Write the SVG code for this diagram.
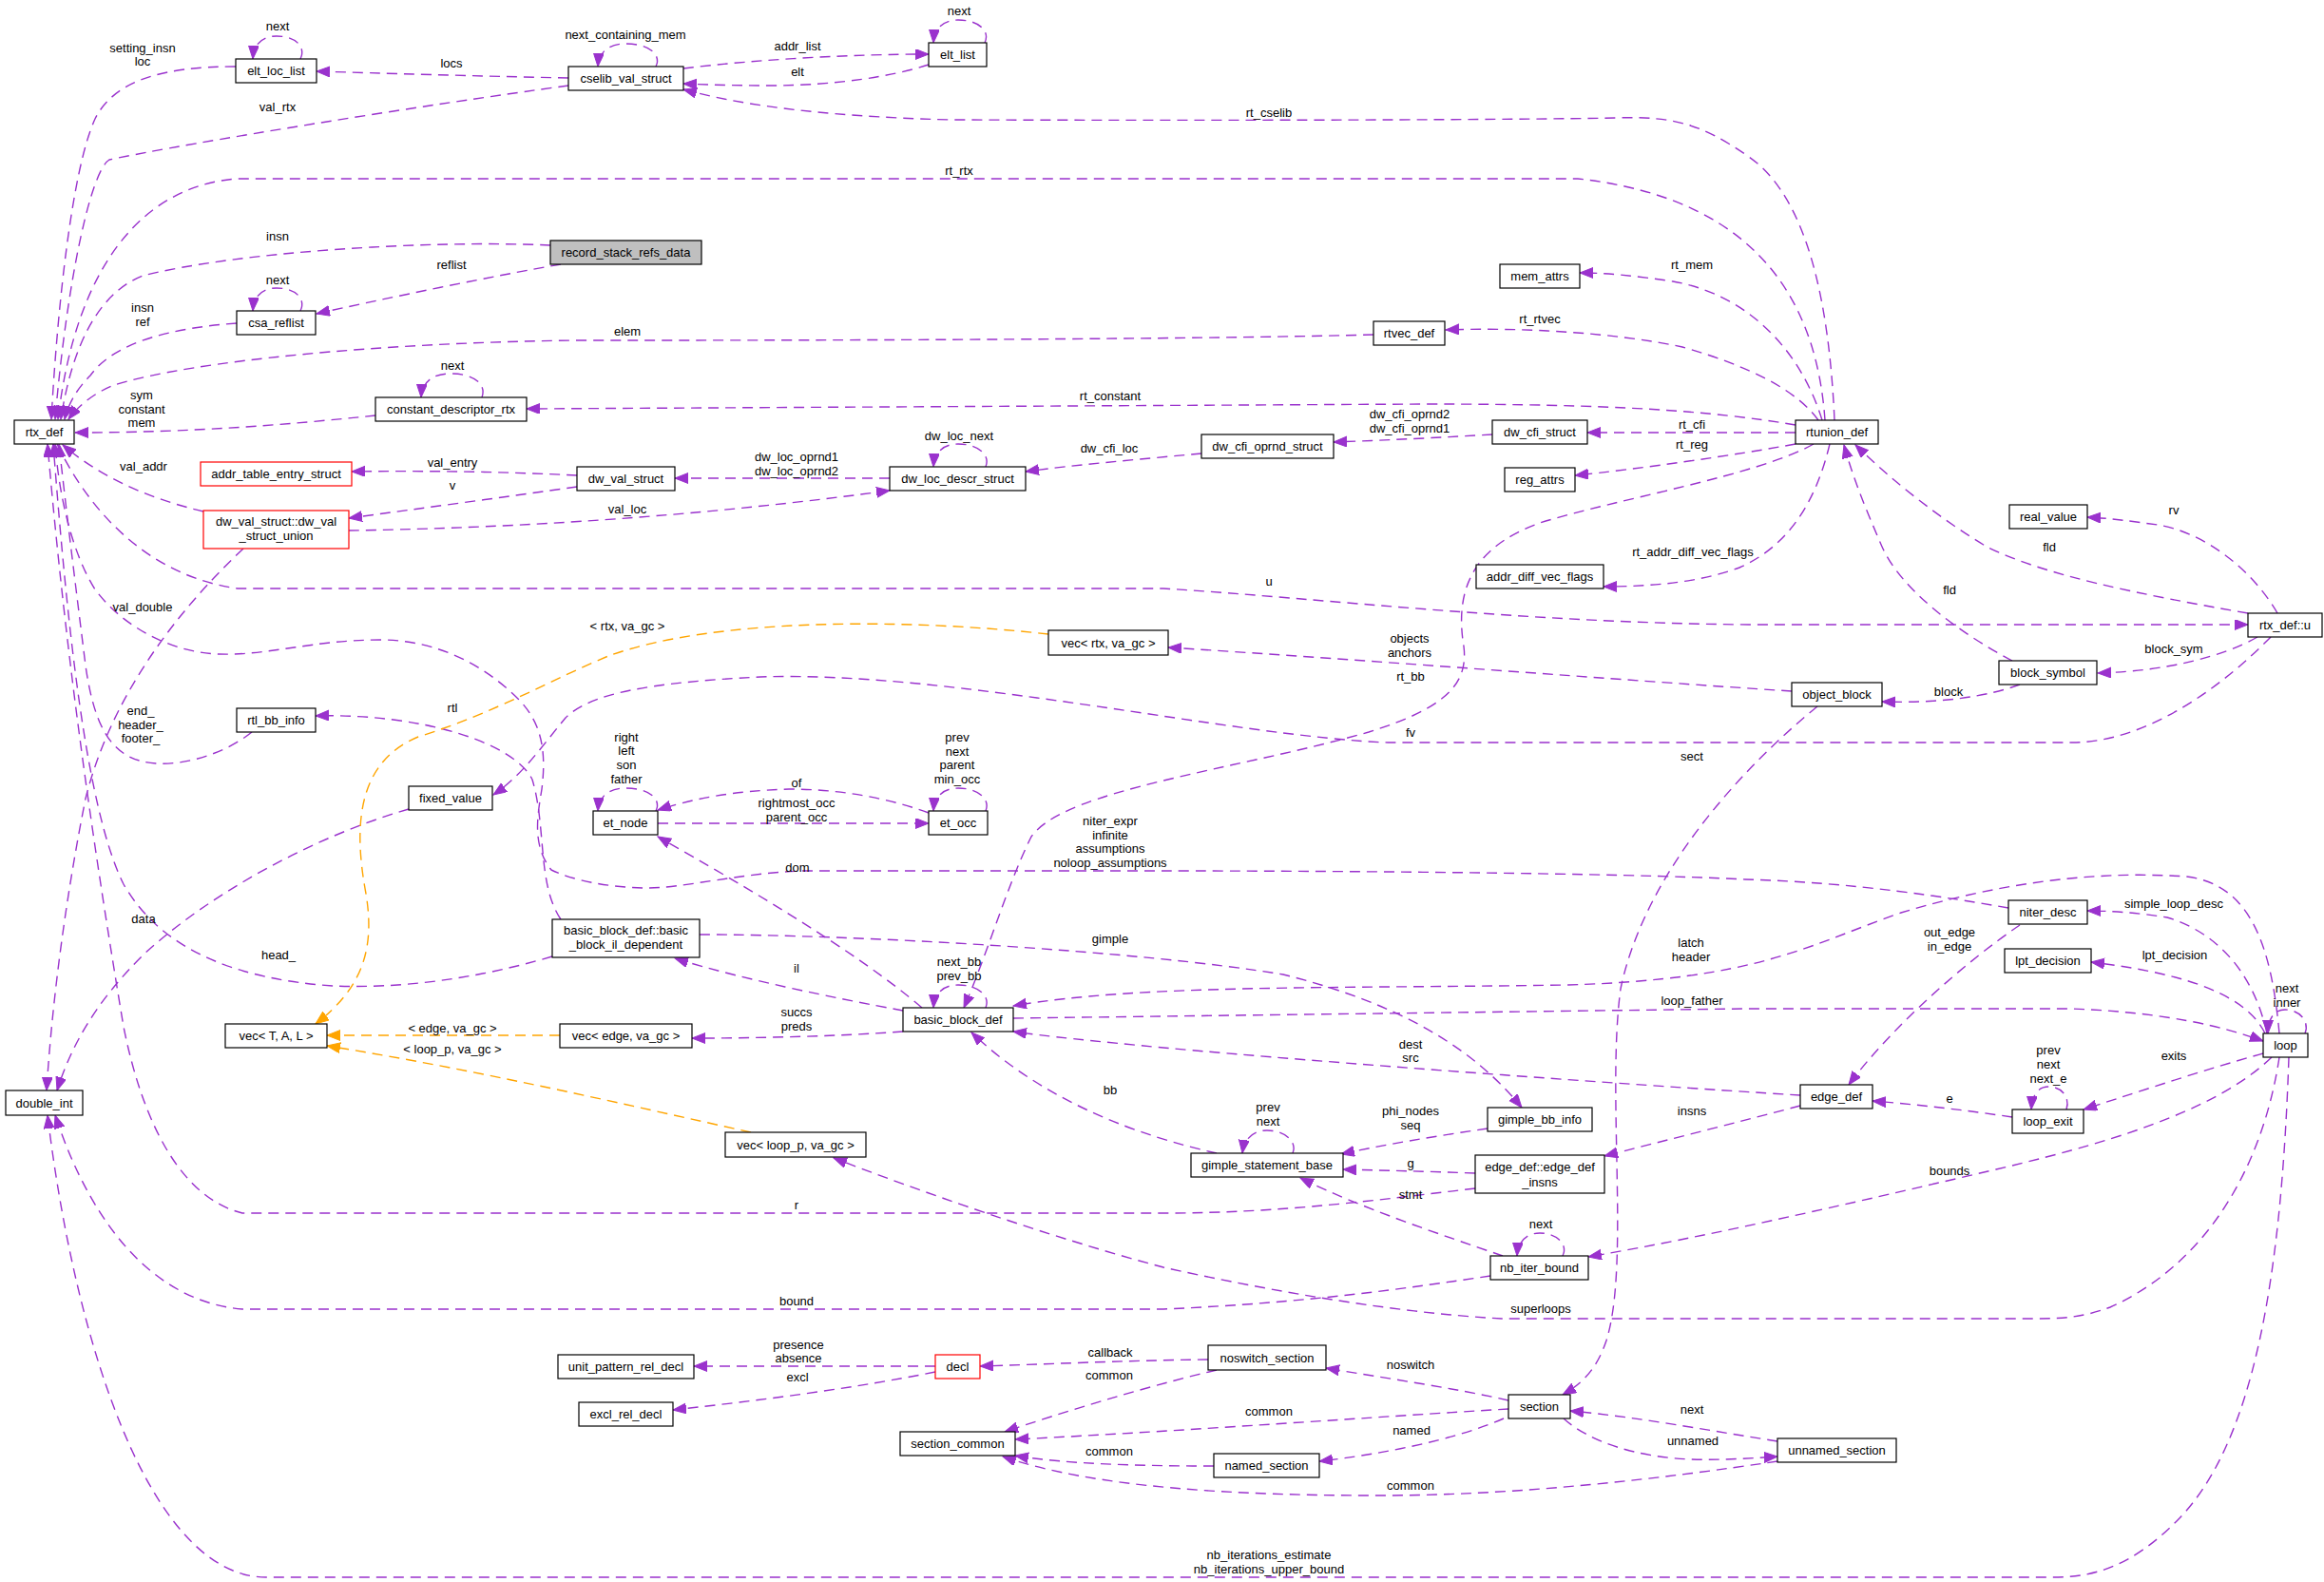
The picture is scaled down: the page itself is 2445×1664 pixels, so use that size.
<svg xmlns="http://www.w3.org/2000/svg" width="2445" height="1664" viewBox="0 0 2445 1664">
<style>
.n rect{fill:#fff;stroke:#000;stroke-width:1.2}
.n.red rect{stroke:#ff0000}
.n.gray rect{fill:#bfbfbf}
text{font-family:"Liberation Sans",Arial,Helvetica,sans-serif;font-size:13px;text-anchor:middle;fill:#000}
.e{fill:none;stroke:#9a32cd;stroke-width:1.4;stroke-dasharray:11,7}
.o{fill:none;stroke:#ffa500;stroke-width:1.4;stroke-dasharray:11,7}
</style>
<defs>
<marker id="ap" markerUnits="userSpaceOnUse" markerWidth="16" markerHeight="12" refX="14" refY="5.5" orient="auto"><path d="M0,0 L14,5.5 L0,11 z" fill="#9a32cd" stroke="#9a32cd"/></marker>
<marker id="ao" markerUnits="userSpaceOnUse" markerWidth="16" markerHeight="12" refX="14" refY="5.5" orient="auto"><path d="M0,0 L14,5.5 L0,11 z" fill="#ffa500" stroke="#ffa500"/></marker>
</defs>
<rect width="2445" height="1664" fill="#fff"/>
<g id="edges">
<path class="e" marker-end="url(#ap)" d="M248,70 C170,70 120,85 100,125 C75,180 60,330 54,441"/>
<path class="e" marker-end="url(#ap)" d="M316,62 C322,50 312,38 291,38 C275,38 267,47 266,62"/>
<path class="e" marker-end="url(#ap)" d="M598,82 C500,80 400,77 333,75"/>
<path class="e" marker-end="url(#ap)" d="M598,90 C450,110 200,150 115,168 C95,180 70,300 58,441"/>
<path class="e" marker-end="url(#ap)" d="M690,70 C696,58 684,46 658,46 C640,46 630,55 629,70"/>
<path class="e" marker-end="url(#ap)" d="M719,72 C800,62 900,57 977,57"/>
<path class="e" marker-end="url(#ap)" d="M977,68 C940,80 880,90 810,90 C770,90 740,89 719,88"/>
<path class="e" marker-end="url(#ap)" d="M1036,45 C1042,33 1030,21 1008,21 C992,21 983,30 982,45"/>
<path class="e" marker-end="url(#ap)" d="M1930,442 C1925,330 1905,210 1840,165 C1790,130 1760,122 1700,124 C1600,126 1300,127 1000,126 C850,122 770,108 719,94"/>
<path class="e" marker-end="url(#ap)" d="M1920,442 C1912,330 1860,210 1660,188 L250,188 C150,195 80,280 61,441"/>
<path class="e" marker-end="url(#ap)" d="M579,258 C450,252 250,265 150,290 C100,310 75,370 64,441"/>
<path class="e" marker-end="url(#ap)" d="M590,278 C520,290 400,315 333,330"/>
<path class="e" marker-end="url(#ap)" d="M316,327 C322,315 312,303 291,303 C275,303 267,312 266,327"/>
<path class="e" marker-end="url(#ap)" d="M249,340 C180,345 120,360 95,395 C80,410 72,425 68,441"/>
<path class="e" marker-end="url(#ap)" d="M1917,442 C1895,370 1840,310 1760,296 C1720,290 1690,287 1662,287"/>
<path class="e" marker-end="url(#ap)" d="M1445,352 C1300,356 1000,358 612,358 C400,360 200,380 120,405 C95,415 80,430 72,441"/>
<path class="e" marker-end="url(#ap)" d="M1913,442 C1890,410 1840,385 1770,365 C1700,350 1600,344 1521,347"/>
<path class="e" marker-end="url(#ap)" d="M507,418 C512,405 500,393 474,393 C455,393 444,402 443,418"/>
<path class="e" marker-end="url(#ap)" d="M395,437 C300,447 200,455 79,455"/>
<path class="e" marker-end="url(#ap)" d="M1889,447 C1800,432 1700,425 1500,425 L554,430"/>
<path class="e" marker-end="url(#ap)" d="M1570,457 C1520,460 1460,463 1403,465"/>
<path class="e" marker-end="url(#ap)" d="M1889,455 L1670,455"/>
<path class="e" marker-end="url(#ap)" d="M1889,467 C1830,478 1720,494 1657,500"/>
<path class="e" marker-end="url(#ap)" d="M1264,477 C1200,483 1130,489 1079,496"/>
<path class="e" marker-end="url(#ap)" d="M1037,491 C1042,479 1030,467 1008,467 C992,467 983,476 982,491"/>
<path class="e" marker-end="url(#ap)" d="M936,503 L710,503"/>
<path class="e" marker-end="url(#ap)" d="M607,500 C530,496 450,495 370,496"/>
<path class="e" marker-end="url(#ap)" d="M607,512 C530,523 440,535 367,545"/>
<path class="e" marker-end="url(#ap)" d="M214,538 C160,525 110,505 66,468"/>
<path class="e" marker-end="url(#ap)" d="M367,558 C500,556 700,548 936,516"/>
<path class="e" marker-end="url(#ap)" d="M256,577 C200,630 120,720 90,840 C70,940 55,1050 49,1147"/>
<path class="e" marker-end="url(#ap)" d="M1925,467 C1910,530 1880,575 1830,597 C1790,612 1740,617 1687,617"/>
<path class="e" marker-end="url(#ap)" d="M1908,467 C1850,500 1700,525 1620,550 C1550,575 1530,620 1540,680 C1545,720 1520,745 1440,770 C1300,810 1120,830 1085,880 C1060,930 1040,1000 1014,1060"/>
<path class="e" marker-end="url(#ap)" d="M60,467 C90,530 150,605 250,619 L1224,619 C1400,630 1600,655 1840,657 L2365,657"/>
<path class="e" marker-end="url(#ap)" d="M2365,645 C2250,625 2150,605 2090,575 C2040,545 1990,505 1952,468"/>
<path class="e" marker-end="url(#ap)" d="M2117,695 C2060,665 2000,620 1980,575 C1965,540 1950,505 1940,468"/>
<path class="e" marker-end="url(#ap)" d="M2396,645 C2370,600 2320,560 2270,552 C2240,548 2220,545 2196,544"/>
<path class="e" marker-end="url(#ap)" d="M2375,670 C2340,690 2280,706 2207,708"/>
<path class="e" marker-end="url(#ap)" d="M2125,720 C2090,733 2040,740 1980,738"/>
<path class="e" marker-end="url(#ap)" d="M1885,727 C1700,715 1450,695 1229,681"/>
<path class="e" marker-end="url(#ap)" d="M1912,743 C1830,810 1730,920 1705,1040 C1690,1150 1715,1330 1690,1410 C1680,1440 1665,1455 1644,1467"/>
<path class="e" marker-end="url(#ap)" d="M2389,670 C2340,720 2260,781 2180,781 L1460,781 C1300,775 1000,705 800,712 C680,718 620,730 595,755 C570,785 550,815 519,836"/>
<path class="e" marker-end="url(#ap)" d="M430,851 C330,880 220,940 150,1005 C100,1055 75,1100 60,1147"/>
<path class="e" marker-end="url(#ap)" d="M581,1006 C500,1030 420,1040 350,1037 C250,1030 170,1000 130,930 C90,850 70,650 56,467"/>
<path class="e" marker-end="url(#ap)" d="M590,967 C565,930 575,870 560,820 C540,780 440,750 332,753"/>
<path class="e" marker-end="url(#ap)" d="M736,983 C900,983 1200,1000 1350,1025 C1450,1050 1540,1090 1601,1165"/>
<path class="e" marker-end="url(#ap)" d="M265,770 C240,790 200,805 164,803 C120,800 100,770 90,700 C80,620 70,540 62,467"/>
<path class="e" marker-end="url(#ap)" d="M690,853 C696,841 684,829 658,829 C640,829 630,838 629,853"/>
<path class="e" marker-end="url(#ap)" d="M977,855 C930,838 880,830 830,830 C770,832 730,840 692,852"/>
<path class="e" marker-end="url(#ap)" d="M692,866 L977,866"/>
<path class="e" marker-end="url(#ap)" d="M1037,853 C1042,841 1030,829 1008,829 C992,829 983,838 982,853"/>
<path class="e" marker-end="url(#ap)" d="M970,1060 C900,1000 780,930 692,880"/>
<path class="e" marker-end="url(#ap)" d="M2113,955 C2050,944 1950,928 1836,925 C1700,918 1400,916 1224,916 L846,916 C780,918 720,934 682,934 C640,934 600,925 580,915 C560,890 565,860 570,830 C575,790 570,760 545,735 C510,700 460,673 400,673 C330,673 280,690 230,688 C180,686 130,660 100,620 C75,580 62,520 58,467"/>
<path class="e" marker-end="url(#ap)" d="M950,1063 C880,1050 780,1030 710,1008"/>
<path class="e" marker-end="url(#ap)" d="M1037,1060 C1042,1048 1030,1036 1008,1036 C992,1036 983,1045 982,1060"/>
<path class="e" marker-end="url(#ap)" d="M950,1085 C880,1090 800,1092 728,1092"/>
<path class="e" marker-end="url(#ap)" d="M2398,1087 C2390,1000 2370,930 2300,922 C2200,915 2100,930 2000,960 C1900,995 1850,1030 1650,1036 C1400,1040 1200,1035 1066,1058"/>
<path class="e" marker-end="url(#ap)" d="M1066,1071 L1836,1061 L2180,1061 C2280,1065 2340,1080 2381,1095"/>
<path class="e" marker-end="url(#ap)" d="M1894,1152 C1700,1140 1400,1118 1224,1102 C1150,1095 1100,1090 1066,1085"/>
<path class="e" marker-end="url(#ap)" d="M1280,1213 C1200,1195 1100,1160 1022,1086"/>
<path class="e" marker-end="url(#ap)" d="M2125,973 C2070,1010 1990,1080 1945,1141"/>
<path class="e" marker-end="url(#ap)" d="M2385,1087 C2370,1020 2330,980 2280,965 C2250,960 2220,958 2196,958"/>
<path class="e" marker-end="url(#ap)" d="M2383,1087 C2365,1050 2310,1025 2200,1012"/>
<path class="e" marker-end="url(#ap)" d="M2425,1087 C2430,1075 2420,1062 2404,1062 C2392,1062 2386,1072 2386,1087"/>
<path class="e" marker-end="url(#ap)" d="M2381,1108 C2320,1125 2260,1145 2192,1167"/>
<path class="e" marker-end="url(#ap)" d="M2174,1167 C2178,1155 2170,1143 2155,1143 C2144,1143 2138,1152 2137,1167"/>
<path class="e" marker-end="url(#ap)" d="M2117,1175 C2070,1168 2020,1162 1970,1158"/>
<path class="e" marker-end="url(#ap)" d="M1894,1163 C1830,1180 1750,1200 1688,1216"/>
<path class="e" marker-end="url(#ap)" d="M1565,1187 C1510,1195 1450,1205 1411,1214"/>
<path class="e" marker-end="url(#ap)" d="M1360,1213 C1365,1201 1352,1189 1333,1189 C1318,1189 1309,1198 1307,1213"/>
<path class="e" marker-end="url(#ap)" d="M1552,1234 C1500,1232 1450,1231 1413,1230"/>
<path class="e" marker-end="url(#ap)" d="M1552,1250 C1450,1262 1350,1276 1224,1276 L255,1276 C190,1260 150,1180 130,1080 C100,900 70,700 50,467"/>
<path class="e" marker-end="url(#ap)" d="M1581,1321 C1520,1300 1430,1270 1368,1239"/>
<path class="e" marker-end="url(#ap)" d="M1644,1321 C1650,1309 1638,1297 1620,1297 C1606,1297 1597,1306 1596,1321"/>
<path class="e" marker-end="url(#ap)" d="M2390,1112 C2340,1160 2250,1195 2100,1230 C1950,1265 1800,1300 1671,1322"/>
<path class="e" marker-end="url(#ap)" d="M1568,1342 C1480,1355 1380,1370 1224,1377 L255,1377 C170,1370 100,1300 58,1173"/>
<path class="e" marker-end="url(#ap)" d="M2398,1112 C2380,1230 2320,1330 2220,1375 C2190,1386 2170,1387 2140,1387 L1580,1387 C1450,1380 1300,1350 1224,1333 C1100,1300 960,1250 877,1218"/>
<path class="e" marker-end="url(#ap)" d="M2408,1112 C2400,1350 2370,1520 2290,1600 C2240,1650 2200,1659 2160,1659 L280,1659 C160,1659 80,1420 50,1173"/>
<path class="e" marker-end="url(#ap)" d="M984,1437 L730,1437"/>
<path class="e" marker-end="url(#ap)" d="M984,1443 C900,1460 800,1473 708,1483"/>
<path class="e" marker-end="url(#ap)" d="M1271,1430 C1180,1431 1100,1435 1031,1437"/>
<path class="e" marker-end="url(#ap)" d="M1280,1441 C1200,1460 1120,1485 1057,1506"/>
<path class="e" marker-end="url(#ap)" d="M1587,1473 C1530,1460 1460,1450 1395,1439"/>
<path class="e" marker-end="url(#ap)" d="M1587,1482 C1450,1490 1250,1505 1068,1514"/>
<path class="e" marker-end="url(#ap)" d="M1582,1492 C1530,1515 1450,1530 1388,1537"/>
<path class="e" marker-end="url(#ap)" d="M1277,1542 C1200,1542 1120,1540 1068,1531"/>
<path class="e" marker-end="url(#ap)" d="M1870,1516 C1800,1505 1720,1490 1652,1484"/>
<path class="e" marker-end="url(#ap)" d="M1645,1492 C1670,1515 1720,1533 1780,1535 C1810,1536 1840,1534 1870,1532"/>
<path class="e" marker-end="url(#ap)" d="M1870,1537 C1750,1555 1600,1573 1450,1573 C1300,1573 1150,1565 1055,1532"/>
<path class="o" marker-end="url(#ao)" d="M1103,667 C950,650 750,650 640,690 C580,715 520,750 440,775 C380,800 370,860 385,940 C395,1000 380,1040 332,1077"/>
<path class="o" marker-end="url(#ao)" d="M589,1089 L344,1089"/>
<path class="o" marker-end="url(#ao)" d="M790,1191 C650,1160 500,1125 344,1100"/>
</g>
<g id="edge-labels">
<text x="292" y="32">next</text>
<text x="150" y="55">setting_insn</text><text x="150" y="69">loc</text>
<text x="475" y="71">locs</text>
<text x="292" y="117">val_rtx</text>
<text x="658" y="41">next_containing_mem</text>
<text x="839" y="53">addr_list</text>
<text x="839" y="80">elt</text>
<text x="1009" y="16">next</text>
<text x="1335" y="123">rt_cselib</text>
<text x="1009" y="184">rt_rtx</text>
<text x="292" y="253">insn</text>
<text x="475" y="283">reflist</text>
<text x="292" y="299">next</text>
<text x="150" y="328">insn</text><text x="150" y="343">ref</text>
<text x="1780" y="283">rt_mem</text>
<text x="1620" y="340">rt_rtvec</text>
<text x="660" y="353">elem</text>
<text x="476" y="389">next</text>
<text x="149" y="420">sym</text><text x="149" y="435">constant</text><text x="149" y="449">mem</text>
<text x="1168" y="421">rt_constant</text>
<text x="1483" y="440">dw_cfi_oprnd2</text><text x="1483" y="455">dw_cfi_oprnd1</text>
<text x="1780" y="451">rt_cfi</text>
<text x="1780" y="472">rt_reg</text>
<text x="1009" y="463">dw_loc_next</text>
<text x="1167" y="476">dw_cfi_loc</text>
<text x="838" y="485">dw_loc_oprnd1</text><text x="838" y="500">dw_loc_oprnd2</text>
<text x="476" y="491">val_entry</text>
<text x="151" y="495">val_addr</text>
<text x="476" y="515">v</text>
<text x="660" y="540">val_loc</text>
<text x="2287" y="541">rv</text>
<text x="2156" y="580">fld</text>
<text x="1781" y="585">rt_addr_diff_vec_flags</text>
<text x="2051" y="625">fld</text>
<text x="1335" y="616">u</text>
<text x="150" y="643">val_double</text>
<text x="660" y="663">&lt; rtx, va_gc &gt;</text>
<text x="1483" y="676">objects</text><text x="1483" y="691">anchors</text>
<text x="2287" y="687">block_sym</text>
<text x="1484" y="716">rt_bb</text>
<text x="2050" y="732">block</text>
<text x="476" y="749">rtl</text>
<text x="148" y="752">end_</text><text x="148" y="767">header_</text><text x="148" y="781">footer_</text>
<text x="1484" y="775">fv</text>
<text x="659" y="780">right</text><text x="659" y="794">left</text><text x="659" y="809">son</text><text x="659" y="824">father</text>
<text x="1007" y="780">prev</text><text x="1007" y="795">next</text><text x="1007" y="809">parent</text><text x="1007" y="824">min_occ</text>
<text x="1780" y="800">sect</text>
<text x="838" y="828">of</text>
<text x="838" y="849">rightmost_occ</text><text x="838" y="864">parent_occ</text>
<text x="1168" y="868">niter_expr</text><text x="1168" y="883">infinite</text><text x="1168" y="897">assumptions</text><text x="1168" y="912">noloop_assumptions</text>
<text x="839" y="917">dom</text>
<text x="2287" y="955">simple_loop_desc</text>
<text x="151" y="971">data</text>
<text x="2051" y="985">out_edge</text><text x="2051" y="1000">in_edge</text>
<text x="1168" y="992">gimple</text>
<text x="1779" y="996">latch</text><text x="1779" y="1011">header</text>
<text x="293" y="1009">head_</text>
<text x="2288" y="1009">lpt_decision</text>
<text x="1009" y="1016">next_bb</text><text x="1009" y="1031">prev_bb</text>
<text x="838" y="1023">il</text>
<text x="2406" y="1044">next</text><text x="2406" y="1059">inner</text>
<text x="1780" y="1057">loop_father</text>
<text x="838" y="1069">succs</text><text x="838" y="1084">preds</text>
<text x="476" y="1086">&lt; edge, va_gc &gt;</text>
<text x="1484" y="1103">dest</text><text x="1484" y="1117">src</text>
<text x="476" y="1108">&lt; loop_p, va_gc &gt;</text>
<text x="2155" y="1109">prev</text><text x="2155" y="1124">next</text><text x="2155" y="1139">next_e</text>
<text x="2287" y="1115">exits</text>
<text x="1168" y="1151">bb</text>
<text x="2051" y="1160">e</text>
<text x="1334" y="1169">prev</text><text x="1334" y="1184">next</text>
<text x="1484" y="1173">phi_nodes</text><text x="1484" y="1188">seq</text>
<text x="1780" y="1173">insns</text>
<text x="1484" y="1228">g</text>
<text x="2051" y="1236">bounds</text>
<text x="1484" y="1261">stmt</text>
<text x="838" y="1272">r</text>
<text x="1621" y="1292">next</text>
<text x="838" y="1373">bound</text>
<text x="1621" y="1381">superloops</text>
<text x="840" y="1419">presence</text><text x="840" y="1433">absence</text>
<text x="1168" y="1427">callback</text>
<text x="1484" y="1440">noswitch</text>
<text x="1167" y="1451">common</text>
<text x="839" y="1453">excl</text>
<text x="1780" y="1487">next</text>
<text x="1335" y="1489">common</text>
<text x="1485" y="1509">named</text>
<text x="1781" y="1520">unnamed</text>
<text x="1167" y="1531">common</text>
<text x="1484" y="1567">common</text>
<text x="1335" y="1640">nb_iterations_estimate</text><text x="1335" y="1655">nb_iterations_upper_bound</text>
</g>
<g id="node-rtx_def" class="n"><rect x="15" y="442" width="63" height="25"/><text x="46.5" y="459">rtx_def</text></g>
<g id="node-elt_loc_list" class="n"><rect x="248" y="62" width="85" height="25"/><text x="290.5" y="79">elt_loc_list</text></g>
<g id="node-cselib_val_struct" class="n"><rect x="598" y="70" width="121" height="25"/><text x="658.5" y="87">cselib_val_struct</text></g>
<g id="node-elt_list" class="n"><rect x="977" y="45" width="61" height="25"/><text x="1007.5" y="62">elt_list</text></g>
<g id="node-record_stack_refs_data" class="n gray"><rect x="579" y="253" width="159" height="25"/><text x="658.5" y="270">record_stack_refs_data</text></g>
<g id="node-csa_reflist" class="n"><rect x="249" y="327" width="83" height="25"/><text x="290.5" y="344">csa_reflist</text></g>
<g id="node-constant_descriptor_rtx" class="n"><rect x="395" y="418" width="159" height="25"/><text x="474.5" y="435">constant_descriptor_rtx</text></g>
<g id="node-mem_attrs" class="n"><rect x="1578" y="278" width="84" height="25"/><text x="1620" y="295">mem_attrs</text></g>
<g id="node-rtvec_def" class="n"><rect x="1445" y="338" width="75" height="25"/><text x="1482.5" y="355">rtvec_def</text></g>
<g id="node-dw_cfi_oprnd_struct" class="n"><rect x="1264" y="457" width="139" height="25"/><text x="1333.5" y="474">dw_cfi_oprnd_struct</text></g>
<g id="node-dw_cfi_struct" class="n"><rect x="1570" y="442" width="100" height="25"/><text x="1620" y="459">dw_cfi_struct</text></g>
<g id="node-rtunion_def" class="n"><rect x="1889" y="442" width="87" height="25"/><text x="1932.5" y="459">rtunion_def</text></g>
<g id="node-reg_attrs" class="n"><rect x="1583" y="492" width="74" height="25"/><text x="1620" y="509">reg_attrs</text></g>
<g id="node-addr_table_entry_struct" class="n red"><rect x="211" y="486" width="159" height="25"/><text x="290.5" y="503">addr_table_entry_struct</text></g>
<g id="node-dw_val_struct" class="n"><rect x="607" y="491" width="103" height="25"/><text x="658.5" y="508">dw_val_struct</text></g>
<g id="node-dw_loc_descr_struct" class="n"><rect x="936" y="491" width="143" height="25"/><text x="1007.5" y="508">dw_loc_descr_struct</text></g>
<g id="node-dw_val_struct_union" class="n red"><rect x="214" y="537" width="153" height="40"/><text x="290.5" y="552.5">dw_val_struct::dw_val</text><text x="290.5" y="568">_struct_union</text></g>
<g id="node-real_value" class="n"><rect x="2114" y="531" width="82" height="25"/><text x="2155" y="548">real_value</text></g>
<g id="node-addr_diff_vec_flags" class="n"><rect x="1553" y="594" width="134" height="25"/><text x="1620" y="611">addr_diff_vec_flags</text></g>
<g id="node-rtx_def_u" class="n"><rect x="2365" y="645" width="78" height="25"/><text x="2404" y="662">rtx_def::u</text></g>
<g id="node-vec_rtx" class="n"><rect x="1103" y="663" width="126" height="26"/><text x="1166" y="680.5">vec&lt; rtx, va_gc &gt;</text></g>
<g id="node-block_symbol" class="n"><rect x="2103" y="695" width="103" height="25"/><text x="2154.5" y="712">block_symbol</text></g>
<g id="node-object_block" class="n"><rect x="1885" y="718" width="95" height="25"/><text x="1932.5" y="735">object_block</text></g>
<g id="node-rtl_bb_info" class="n"><rect x="249" y="745" width="83" height="25"/><text x="290.5" y="762">rtl_bb_info</text></g>
<g id="node-fixed_value" class="n"><rect x="430" y="827" width="88" height="25"/><text x="474" y="844">fixed_value</text></g>
<g id="node-et_node" class="n"><rect x="624" y="853" width="68" height="25"/><text x="658" y="870">et_node</text></g>
<g id="node-et_occ" class="n"><rect x="977" y="853" width="62" height="25"/><text x="1008" y="870">et_occ</text></g>
<g id="node-niter_desc" class="n"><rect x="2113" y="947" width="83" height="25"/><text x="2154.5" y="964">niter_desc</text></g>
<g id="node-bb_il_dependent" class="n"><rect x="581" y="967" width="155" height="40"/><text x="658.5" y="983">basic_block_def::basic</text><text x="658.5" y="997.5">_block_il_dependent</text></g>
<g id="node-lpt_decision" class="n"><rect x="2109" y="998" width="91" height="25"/><text x="2154.5" y="1015">lpt_decision</text></g>
<g id="node-basic_block_def" class="n"><rect x="950" y="1060" width="116" height="25"/><text x="1008" y="1077">basic_block_def</text></g>
<g id="node-vec_T_A_L" class="n"><rect x="237" y="1077" width="107" height="25"/><text x="290.5" y="1094">vec&lt; T, A, L &gt;</text></g>
<g id="node-vec_edge" class="n"><rect x="589" y="1077" width="139" height="25"/><text x="658.5" y="1094">vec&lt; edge, va_gc &gt;</text></g>
<g id="node-loop" class="n"><rect x="2381" y="1087" width="47" height="25"/><text x="2404.5" y="1104">loop</text></g>
<g id="node-edge_def" class="n"><rect x="1894" y="1141" width="76" height="25"/><text x="1932" y="1158">edge_def</text></g>
<g id="node-double_int" class="n"><rect x="6" y="1147" width="81" height="26"/><text x="46.5" y="1164.5">double_int</text></g>
<g id="node-gimple_bb_info" class="n"><rect x="1565" y="1165" width="110" height="25"/><text x="1620" y="1182">gimple_bb_info</text></g>
<g id="node-loop_exit" class="n"><rect x="2117" y="1167" width="75" height="25"/><text x="2154.5" y="1184">loop_exit</text></g>
<g id="node-vec_loop_p" class="n"><rect x="763" y="1191" width="148" height="26"/><text x="837" y="1208.5">vec&lt; loop_p, va_gc &gt;</text></g>
<g id="node-gimple_statement_base" class="n"><rect x="1253" y="1213" width="160" height="25"/><text x="1333" y="1230">gimple_statement_base</text></g>
<g id="node-edge_def_insns" class="n"><rect x="1552" y="1215" width="136" height="40"/><text x="1620" y="1232">edge_def::edge_def</text><text x="1620" y="1247.5">_insns</text></g>
<g id="node-nb_iter_bound" class="n"><rect x="1568" y="1321" width="103" height="25"/><text x="1619.5" y="1338">nb_iter_bound</text></g>
<g id="node-noswitch_section" class="n"><rect x="1271" y="1415" width="124" height="26"/><text x="1333" y="1432.5">noswitch_section</text></g>
<g id="node-unit_pattern_rel_decl" class="n"><rect x="587" y="1425" width="143" height="25"/><text x="658.5" y="1442">unit_pattern_rel_decl</text></g>
<g id="node-decl" class="n red"><rect x="984" y="1425" width="47" height="25"/><text x="1007.5" y="1442">decl</text></g>
<g id="node-section" class="n"><rect x="1587" y="1467" width="65" height="25"/><text x="1619.5" y="1484">section</text></g>
<g id="node-excl_rel_decl" class="n"><rect x="609" y="1475" width="99" height="25"/><text x="658.5" y="1492">excl_rel_decl</text></g>
<g id="node-section_common" class="n"><rect x="947" y="1506" width="121" height="25"/><text x="1007.5" y="1523">section_common</text></g>
<g id="node-unnamed_section" class="n"><rect x="1870" y="1513" width="125" height="25"/><text x="1932.5" y="1530">unnamed_section</text></g>
<g id="node-named_section" class="n"><rect x="1277" y="1529" width="111" height="25"/><text x="1332.5" y="1546">named_section</text></g>
</svg>
